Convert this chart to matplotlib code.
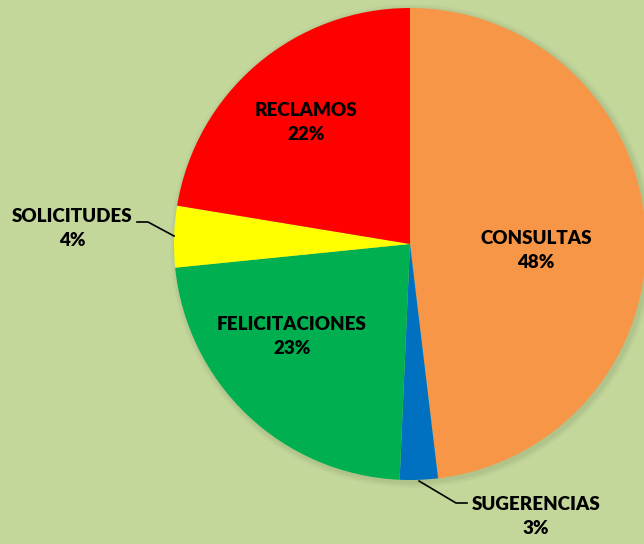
import matplotlib.pyplot as plt
from matplotlib.patches import Circle

categorias = ['CONSULTAS', 'SUGERENCIAS', 'FELICITACIONES', 'SOLICITUDES', 'RECLAMOS']
porcentajes = [48.1, 2.6, 22.7, 4.2, 22.4]
colores = ['#F79646', '#0070C0', '#00B050', '#FFFF00', '#FF0000']

fondo = '#C4D79B'
plt.rcParams['font.family'] = ['Lato', 'DejaVu Sans']

fig = plt.figure(figsize=(6.44, 5.44), dpi=100, facecolor=fondo)
ax = fig.add_axes([0, 0, 1, 1])
ax.set_facecolor(fondo)

centro = (410, 244)
radio = 236

# sombra suave
for i, a in enumerate([0.05, 0.05, 0.05, 0.06]):
    ax.add_patch(Circle((centro[0] + 2, centro[1] + 2), radio + 6 - i * 1.5,
                        color='#6b7a4f', alpha=a, lw=0))

# eje y invertido: -90 queda arriba y counterclock=True gira en sentido horario
ax.pie(porcentajes, colors=colores, startangle=-90, counterclock=True,
       center=centro, radius=radio, frame=True,
       wedgeprops=dict(linewidth=0))
ax.set_xlim(0, 644)
ax.set_ylim(544, 0)
ax.set_aspect('equal')
ax.axis('off')

etiquetas = [f'{c}\n{p:.0f}%' for c, p in zip(categorias, porcentajes)]
pos = [(536, 250), (536, 517), (292, 337), (72, 229), (306, 122)]
for t, (x, y) in zip(etiquetas, pos):
    ax.text(x, y, t, ha='center', va='center', fontsize=13.5, fontweight='heavy',
            linespacing=1.5, color='black')

# lineas guia
ax.plot([174, 148, 137], [236, 222, 222], color='black', lw=1.2)
ax.plot([419, 456, 467], [481, 503, 503], color='black', lw=1.2)

fig.savefig('out.png', dpi=100, facecolor=fondo)
